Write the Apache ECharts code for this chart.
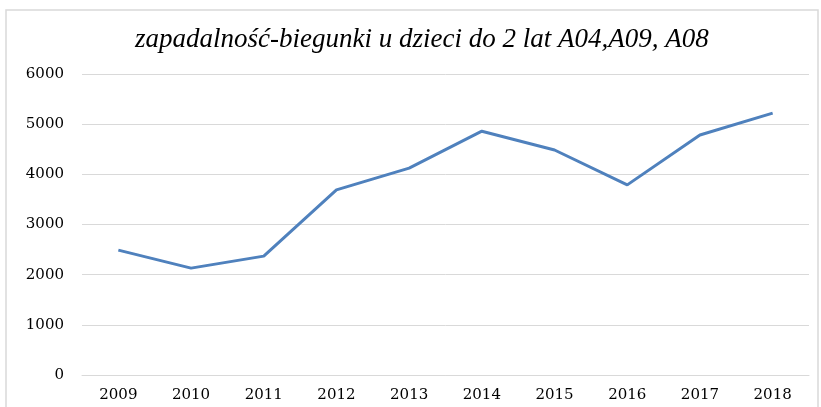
<!DOCTYPE html>
<html lang="pl">
<head>
    <meta charset="utf-8">
    <title>zapadalność</title>
    <script src="https://cdn.jsdelivr.net/npm/echarts@6/dist/echarts.min.js"></script>
    <style>
        html, body { margin: 0; padding: 0; background: #fff; }
        #main { width: 821px; height: 407px; }
    </style>
</head>
<body>
<div id="main"></div>
<script type="text/javascript">
    // dane
    var lata = ['2009', '2010', '2011', '2012', '2013', '2014', '2015', '2016', '2017', '2018'];
    var zachorowania = [2490, 2130, 2370, 3690, 4125, 4860, 4485, 3790, 4785, 5220];

    var myChart = echarts.init(document.getElementById('main'));

    var option = {
        backgroundColor: '#fff',
        animation: false,
        title: {
            text: 'zapadalność-biegunki u dzieci do 2 lat A04,A09, A08',
            left: 130,
            top: 21,
            textStyle: {
                fontFamily: 'Liberation Serif',
                fontStyle: 'italic',
                fontWeight: 'normal',
                fontSize: 27,
                color: '#000'
            }
        },
        graphic: [
            {
                type: 'rect',
                shape: {x: 6, y: 10, width: 812, height: 420},
                style: {fill: 'none', stroke: '#d9d9d9', lineWidth: 1.5},
                silent: true
            }
        ],
        grid: {
            left: 82,
            right: 12,
            top: 74,
            bottom: 32,
            containLabel: false
        },
        xAxis: {
            type: 'category',
            data: lata,
            boundaryGap: true,
            axisLine: {show: true, lineStyle: {color: '#d9d9d9', width: 1}},
            axisTick: {show: false},
            axisLabel: {
                color: '#000',
                fontFamily: 'DejaVu Serif',
                fontSize: 15,
                margin: 13
            }
        },
        yAxis: {
            type: 'value',
            min: 0,
            max: 6000,
            interval: 1000,
            axisLine: {show: false},
            axisTick: {show: false},
            axisLabel: {
                color: '#000',
                fontFamily: 'DejaVu Serif',
                fontSize: 15,
                margin: 18,
                formatter: function (v) { return String(v); }
            },
            splitLine: {lineStyle: {color: '#d9d9d9', width: 1}}
        },
        series: [
            {
                name: 'zapadalność',
                type: 'line',
                data: zachorowania,
                symbol: 'none',
                lineStyle: {color: '#4f81bd', width: 3},
                itemStyle: {color: '#4f81bd'}
            }
        ]
    };

    myChart.setOption(option);
</script>
</body>
</html>
